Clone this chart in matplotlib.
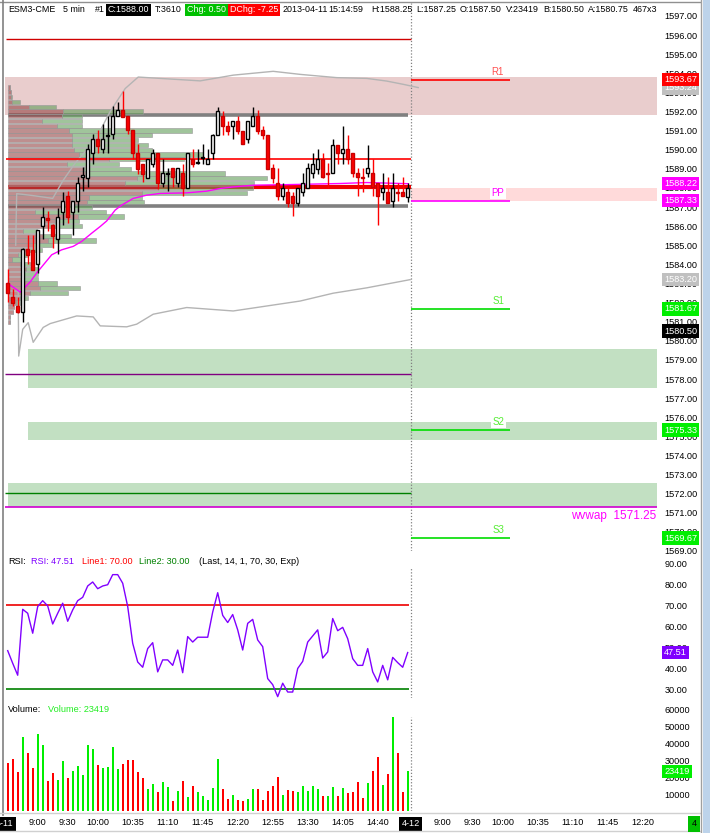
import numpy as np
import matplotlib.pyplot as plt
from matplotlib.patches import Rectangle
from matplotlib.lines import Line2D
import matplotlib.transforms as mtransforms

plt.rcParams['font.family'] = ['Liberation Sans', 'DejaVu Sans']

W, H = 710, 833
FS = 6.6

# ---- candles (5 min ESM3, 2013-04-11, bar 0 = 8:30) ----
opens = [1583.00, 1582.30, 1581.80, 1581.50, 1584.80, 1584.75, 1584.00, 1586.00, 1586.40, 1586.05,
         1585.30, 1586.75, 1587.55, 1586.75, 1587.30, 1588.55, 1588.50, 1589.80, 1590.55, 1590.05,
         1590.70, 1590.80, 1591.75, 1592.05, 1591.75, 1591.05, 1589.80, 1589.25, 1588.50, 1589.25,
         1589.80, 1588.25, 1588.75, 1589.05, 1588.25, 1588.80, 1588.00, 1589.50, 1589.30, 1589.55,
         1589.25, 1589.80, 1590.75, 1591.75, 1591.25, 1591.25, 1591.50, 1591.00, 1590.55, 1591.25,
         1591.75, 1591.05, 1590.75, 1589.05, 1588.25, 1587.55, 1587.80, 1587.55, 1587.20, 1587.80,
         1588.00, 1588.80, 1589.00, 1589.50, 1588.80, 1588.80, 1590.25, 1589.80, 1590.05, 1589.80,
         1588.80, 1588.55, 1588.80, 1588.80, 1588.25, 1587.80, 1587.80, 1587.30, 1587.80, 1587.80,
         1587.50]
highs = [1583.75, 1582.70, 1582.30, 1584.85, 1585.55, 1585.55, 1585.80, 1587.00, 1586.80, 1586.10,
         1586.95, 1587.80, 1587.85, 1587.30, 1588.55, 1589.10, 1590.30, 1590.80, 1591.05, 1591.35,
         1591.75, 1592.30, 1592.50, 1593.05, 1591.75, 1591.05, 1590.30, 1589.25, 1589.50, 1590.05,
         1589.80, 1589.50, 1589.05, 1589.05, 1589.05, 1589.25, 1589.80, 1590.05, 1590.05, 1590.30,
         1590.05, 1590.80, 1592.25, 1592.00, 1591.50, 1591.50, 1591.75, 1591.00, 1591.50, 1592.25,
         1592.05, 1591.25, 1590.75, 1589.25, 1589.05, 1588.25, 1588.00, 1587.80, 1588.00, 1588.80,
         1589.30, 1589.80, 1590.05, 1589.80, 1589.30, 1590.55, 1590.25, 1591.25, 1590.75, 1589.80,
         1589.05, 1589.05, 1590.25, 1589.50, 1588.25, 1588.80, 1588.55, 1588.80, 1588.25, 1588.55,
         1588.25]
lows = [1582.05, 1581.80, 1581.45, 1581.00, 1584.00, 1583.70, 1583.55, 1585.30, 1585.75, 1584.85,
        1584.55, 1586.05, 1586.15, 1585.55, 1586.75, 1587.85, 1588.05, 1589.25, 1589.80, 1589.80,
        1589.80, 1590.55, 1591.75, 1591.70, 1590.80, 1589.50, 1588.75, 1588.30, 1588.50, 1589.10,
        1587.95, 1588.05, 1587.85, 1588.05, 1588.05, 1587.55, 1588.00, 1589.10, 1589.25, 1589.25,
        1589.25, 1589.50, 1590.75, 1590.75, 1590.75, 1590.55, 1590.80, 1590.30, 1590.35, 1591.25,
        1590.80, 1590.55, 1589.00, 1588.25, 1587.35, 1587.35, 1587.00, 1586.55, 1587.05, 1587.55,
        1588.00, 1588.50, 1588.75, 1588.50, 1588.00, 1588.80, 1589.25, 1589.25, 1589.25, 1588.55,
        1587.55, 1587.80, 1588.55, 1587.55, 1586.05, 1587.35, 1587.20, 1587.00, 1587.30, 1587.55,
        1587.25]
closes = [1582.50, 1582.00, 1581.50, 1584.80, 1584.50, 1583.70, 1585.80, 1586.50, 1586.30, 1585.50,
          1586.50, 1587.30, 1586.50, 1587.30, 1588.25, 1588.70, 1590.05, 1590.55, 1590.20, 1590.55,
          1590.75, 1591.75, 1592.05, 1591.70, 1591.05, 1589.80, 1589.00, 1588.75, 1589.50, 1589.80,
          1588.25, 1588.80, 1588.80, 1588.55, 1589.05, 1588.00, 1589.80, 1589.25, 1589.35, 1589.60,
          1589.50, 1590.75, 1592.00, 1591.25, 1591.00, 1591.50, 1591.00, 1590.30, 1591.50, 1591.75,
          1591.00, 1590.75, 1589.00, 1588.50, 1587.55, 1588.00, 1587.20, 1587.20, 1588.00, 1588.25,
          1589.05, 1589.25, 1589.50, 1588.55, 1588.75, 1590.25, 1589.80, 1590.05, 1589.50, 1588.80,
          1588.55, 1588.50, 1589.05, 1588.05, 1587.55, 1588.00, 1587.20, 1588.00, 1587.75, 1587.55,
          1588.00]

volume = [28300, 30700, 23000, 43500, 34200, 25400, 45300, 38900, 17800, 22500,
          18400, 29500, 19500, 23600, 26600, 21300, 38900, 36500, 27100, 25400,
          26000, 37700, 24800, 27700, 30100, 30100, 23000, 19500, 13100, 16000,
          11300, 17200, 14300, 6100, 11900, 17800, 8400, 14800, 11300, 9000,
          6600, 13700, 30700, 13100, 7200, 9600, 6600, 6100, 7200, 13100,
          13100, 6600, 11900, 14800, 20100, 9600, 12500, 11900, 11300, 14800,
          11900, 14800, 13100, 9000, 9000, 14300, 9000, 13700, 10900, 11300,
          17200, 7800, 16600, 23600, 31800, 15400, 21900, 55300, 34200, 11300,
          23419]
vol_dir = "rrrgrrggrr" "ggrgggggrg" "gggrrrrrgg" "rggrgrgrgg" "gggrrgrrgg" \
          "rrrrrgrrgg" "gggrggrgrr" "rrgrrgrgrr" "g"

rsi = [48.4, 42.4, 36.7, 68.1, 66.2, 56.7, 69.4, 72.2, 69.7, 61.1,
       66.2, 71.0, 62.4, 67.8, 72.2, 73.8, 79.2, 81.1, 77.9, 79.2,
       79.8, 84.6, 84.6, 80.5, 69.4, 51.9, 43.0, 40.5, 49.4, 52.2,
       38.3, 44.0, 44.0, 41.4, 48.7, 37.9, 55.1, 52.5, 54.8, 54.8,
       54.8, 66.8, 76.0, 65.2, 61.8, 65.6, 58.3, 48.7, 61.4, 63.3,
       53.5, 50.3, 35.1, 32.2, 26.5, 32.9, 28.7, 28.7, 39.9, 43.3,
       52.5, 55.4, 58.3, 44.9, 47.8, 63.7, 57.9, 59.5, 54.1, 44.6,
       41.4, 41.4, 49.4, 38.3, 33.5, 41.4, 34.5, 45.2, 42.7, 40.5,
       47.51]

# session vwap and its bands (bar index, price)
vwap_x = [0, 2.5, 4.5, 5.8, 8.8, 10.8, 13.1, 14.8, 16.8, 18.5, 19.8, 21.5, 22.8, 25.1,
          27.8, 30.5, 35.8, 39.8, 42.5, 45.1, 49.1, 55.8, 66.5, 71.8, 80.1]
vwap_y = [1583.0, 1582.55, 1583.08, 1583.55, 1584.5, 1584.76, 1584.94, 1585.2, 1585.63,
          1585.98, 1586.27, 1586.84, 1587.1, 1587.45, 1587.62, 1587.71, 1587.74, 1587.83,
          1587.97, 1588.05, 1588.14, 1588.17, 1588.23, 1588.28, 1588.22]
upper_x = [1.6, 1.8, 5, 9, 11.1, 13.5, 17.5, 20.5, 23.5, 26.1, 38.5, 45.1, 53.1, 58.5,
           65.8, 71.8, 75.8, 79.1, 82.1]
upper_y = [1585.0, 1587.7, 1587.6, 1587.45, 1588.4, 1589.3, 1590.5, 1592.0, 1593.2, 1593.8,
           1593.6, 1593.9, 1594.1, 1593.94, 1593.77, 1593.73, 1593.59, 1593.42, 1593.25]
lower_x = [2.1, 2.2, 3.0, 4.1, 5.1, 7.1, 8.5, 13.8, 17.1, 18.5, 23.8, 25.8, 29.1, 35.8,
           45.1, 58.5, 65.1, 71.8, 80.5]
lower_y = [1582.6, 1579.2, 1580.6, 1580.95, 1579.92, 1580.70, 1580.90, 1581.30, 1581.25,
           1580.78, 1580.73, 1580.87, 1581.39, 1581.74, 1581.56, 1582.08, 1582.49, 1582.77,
           1583.2]

# volume profile (sell / buy per 0.25 level, top 1593.25 down to 1581.00)
prof_top = 1593.25
prof_sell = [2, 3, 3, 4, 21, 55, 54, 34, 49, 61, 64, 64, 64, 66, 71, 101, 59, 76, 77, 129,
             117, 150, 134, 81, 79, 55, 27, 70, 47, 40, 15, 35, 40, 25, 20, 10, 4, 12, 18, 14,
             16, 30, 32, 22, 12, 8, 6, 5, 2, 2]
prof_buy = [0, 0, 1, 8, 27, 80, 20, 40, 25, 123, 80, 66, 76, 78, 124, 75, 52, 47, 140, 130,
            129, 95, 105, 53, 57, 29, 71, 46, 24, 34, 14, 28, 48, 19, 14, 9, 8, 10, 12, 16,
            14, 19, 40, 38, 8, 4, 0, 0, 0, 0]

# levels
r1, pp, s1, s2, s3 = 1593.67, 1587.33, 1581.67, 1575.33, 1569.67
last_vwap, wvwap, bid_px = 1588.22, 1571.25, 1580.50

times_day1 = ['9:00', '9:30', '10:00', '10:35', '11:10', '11:45', '12:20', '12:55', '13:30',
              '14:05', '14:40']
times_day1_bar = [6, 12, 18, 25, 32, 39, 46, 53, 60, 67, 74]
times_day2 = ['9:00', '9:30', '10:00', '10:35', '11:10', '11:45', '12:20']
times_day2_bar = [87, 93, 99, 106, 113, 120, 127]

# ---------------------------------------------------------------
fig = plt.figure(figsize=(W / 100, H / 100), dpi=100)
fig.patch.set_facecolor('white')


def axes_px(x0, y0, x1, y1):
    return fig.add_axes([x0 / W, 1 - y1 / H, (x1 - x0) / W, (y1 - y0) / H])


def fig_line(x0, y0, x1, y1, **kw):
    fig.add_artist(Line2D([x0 / W, x1 / W], [1 - y0 / H, 1 - y1 / H],
                          transform=fig.transFigure, **kw))


def fig_text(x, y, s, **kw):
    kw.setdefault('fontsize', FS)
    kw.setdefault('va', 'center')
    fig.text(x / W, 1 - y / H, s, **kw)


XL = (-0.54, 129.86)
SPLIT = 80.66
PIV_END = 100.5

ax = axes_px(5, 3, 657, 551)
ax_rsi = axes_px(5, 553, 657, 698)
ax_vol = axes_px(5, 700, 657, 811.4)

for a, top in ((ax, 1), (ax_rsi, 0.897), (ax_vol, 0.847)):
    a.set_xlim(*XL)
    for s in a.spines.values():
        s.set_visible(False)
    a.yaxis.tick_right()
    a.tick_params(axis='y', length=0, pad=5.5, labelsize=FS)
    a.tick_params(axis='x', length=0, labelbottom=False)
    a.axvline(SPLIT, color='#808080', ls=(0, (1, 1.5)), lw=0.9, ymax=top, zorder=1)

ax.set_ylim(1569.222, 1597.675)
ax.set_yticks(np.arange(1569, 1598, 1.0))
ax.yaxis.set_major_formatter(lambda v, p: f'{v:.2f}')

# bands
ax.axhspan(1591.81, 1593.78, color='#e9cdcd', zorder=0.5, lw=0)
ax.fill_between([SPLIT, XL[1]], 1587.31, 1588.02, color='#ffdada', zorder=0.5, lw=0)
ax.fill_between([4.06, XL[1]], 1577.55, 1579.55, color='#c2e0c2', zorder=0.5, lw=0)
ax.fill_between([4.06, XL[1]], 1574.79, 1575.76, color='#c2e0c2', zorder=0.5, lw=0)
ax.fill_between([0.06, XL[1]], 1571.31, 1572.54, color='#c2e0c2', zorder=0.5, lw=0)

# horizontal lines
ax.hlines(1595.79, -0.3, SPLIT, color='#d00000', lw=1, zorder=2)
ax.hlines([1591.82, 1587.05], 0.1, 80.1, color='#808080', lw=2.6, zorder=2)
ax.hlines(1589.52, -0.3, SPLIT, color='#ff0000', lw=1.2, zorder=4)
ax.hlines(1588.05, 0.1, SPLIT, color='#ee0000', lw=3, zorder=2)
ax.hlines(1578.24, XL[0], SPLIT, color='#800080', lw=1, zorder=2)
ax.hlines(1572.01, XL[0], SPLIT, color='#008000', lw=1, zorder=2)
ax.hlines(wvwap + 0.06, XL[0], XL[1], color='#d000d0', lw=1.2, zorder=2)

# pivots
ax.hlines(r1, SPLIT, PIV_END, color='#ff0000', lw=1.2, zorder=3)
ax.hlines(pp, SPLIT, PIV_END, color='#ff00ff', lw=1.2, zorder=3)
ax.hlines([s1, s2, s3], SPLIT, PIV_END, color='#00dd00', lw=1.2, zorder=3)
ax.text(98, r1 + 0.42, 'R1', color='#ff5050', fontsize=FS + 0.4, ha='center', va='center', zorder=6)
ax.text(98, pp + 0.42, 'PP', color='#ff00ff', fontsize=FS + 0.4, ha='center', va='center', zorder=6,
        bbox=dict(boxstyle='square,pad=0.15', fc='white', ec='none'))
for lv, nm in ((s1, 'S1'), (s2, 'S2'), (s3, 'S3')):
    ax.text(98.2, lv + 0.42, nm, color='#55ee33', fontsize=FS + 0.4, ha='center', va='center',
            zorder=6, bbox=dict(boxstyle='square,pad=0.15', fc='white', ec='none'))
ax.text(XL[1] - 0.2, wvwap - 0.42, 'wvwap  1571.25', color='#ff00ff', fontsize=8.5,
        ha='right', va='center', zorder=6)

# volume profile
levels = prof_top - 0.25 * np.arange(len(prof_sell))
sell = np.array(prof_sell) * 0.2
buy = np.array(prof_buy) * 0.2
ax.barh(levels, sell, left=0.12, height=0.22, color=(0.58, 0.27, 0.27, 0.6),
        edgecolor=(0.6, 0.6, 0.6, 0.7), lw=0.6, zorder=3)
ax.barh(levels, buy, left=0.12 + sell, height=0.22, color=(0.38, 0.62, 0.35, 0.6),
        edgecolor=(0.6, 0.6, 0.6, 0.7), lw=0.6, zorder=3)

# vwap and bands
ax.plot(upper_x, upper_y, color='#b4b4b4', lw=1, zorder=3.5)
ax.plot(lower_x, lower_y, color='#b4b4b4', lw=1, zorder=3.5)
ax.plot(vwap_x, vwap_y, color='#ff00ff', lw=1, zorder=4)

# candles
for i, (o, h, l, c) in enumerate(zip(opens, highs, lows, closes)):
    up = c >= o
    ax.vlines(i, l, h, color='black' if up else '#ff0000', lw=1, zorder=5)
    ax.add_patch(Rectangle((i - 0.3, min(o, c)), 0.6, max(abs(c - o), 0.015),
                           facecolor='white' if up else '#ff0000',
                           edgecolor='black' if up else '#c80000', lw=1, zorder=6))


def price_box(a, y, s, bg, fg='white'):
    tr = mtransforms.blended_transform_factory(a.transAxes, a.transData)
    a.annotate(s, xy=(1, y), xycoords=tr, xytext=(7, 0), textcoords='offset pixels',
               ha='left', va='center', fontsize=FS, color=fg, annotation_clip=False, zorder=10,
               bbox=dict(boxstyle='square,pad=0.25', fc=bg, ec='none'))


price_box(ax, 1593.24, '1593.24', '#c0c0c0')
price_box(ax, r1, '1593.67', '#ff0000')
price_box(ax, last_vwap, '1588.22', '#ff00ff')
price_box(ax, pp, '1587.33', '#ff00ff')
price_box(ax, 1583.20, '1583.20', '#c0c0c0')
price_box(ax, s1, '1581.67', '#00ee00')
price_box(ax, bid_px, '1580.50', 'black')
price_box(ax, s2, '1575.33', '#00ee00')
price_box(ax, s3, '1569.67', '#00ee00')

# RSI panel
ax_rsi.set_ylim(25.86, 94.9)
ax_rsi.set_yticks(np.arange(30, 91, 10))
ax_rsi.yaxis.set_major_formatter(lambda v, p: f'{v:.2f}')
ax_rsi.hlines(70, -0.3, 80.3, color='#ee0000', lw=1.2)
ax_rsi.hlines(30, -0.3, 80.3, color='#008000', lw=1.2)
ax_rsi.plot(range(len(rsi)), rsi, color='#8000ff', lw=1)
price_box(ax_rsi, rsi[-1], '47.51', '#8000ff')

# volume panel
ax_vol.set_ylim(0, 65300)
ax_vol.set_yticks(np.arange(10000, 60001, 10000))
ax_vol.yaxis.set_major_formatter(lambda v, p: f'{int(v)}')
ax_vol.bar(range(len(volume)), volume, width=0.36,
           color=['#00ee00' if d == 'g' else '#ff0000' for d in vol_dir], zorder=3)
price_box(ax_vol, volume[-1], '23419', '#00ee00')

ax_vol.set_xticks(times_day1_bar + times_day2_bar)
ax_vol.set_xticklabels(times_day1 + times_day2)
ax_vol.tick_params(axis='x', labelbottom=True, labelsize=FS, pad=5)
for xb, s in ((-0.65, '4-11'), (80.56, '4-12')):
    ax_vol.annotate(s, xy=(xb, 0), xycoords=('data', 'axes fraction'), xytext=(0, -12.5),
                    textcoords='offset pixels', ha='center', va='center', fontsize=FS,
                    color='white', annotation_clip=False,
                    bbox=dict(boxstyle='square,pad=0.25', fc='black', ec='none'))

# header line
hdr = [(8, 'ESM3-CME', None, 'black'), (63, '5 min', None, 'black'), (95, '#1', None, 'black'),
       (108, 'C:1588.00', 'black', 'white'), (155, 'T:3610', None, 'black'),
       (187, 'Chg: 0.50', '#00c000', 'white'), (230, 'DChg: -7.25', '#ff0000', 'white'),
       (283, '2013-04-11', None, 'black'), (328, '15:14:59', None, 'black'),
       (371, 'H:1588.25', None, 'black'), (416, 'L:1587.25', None, 'black'),
       (460, 'O:1587.50', None, 'black'), (506, 'V:23419', None, 'black'),
       (543, 'B:1580.50', None, 'black'), (588, 'A:1580.75', None, 'black'),
       (633, '467x3', None, 'black')]
for x, s, bg, fg in hdr:
    kw = {}
    if bg:
        kw['bbox'] = dict(boxstyle='square,pad=0.2', fc=bg, ec='none')
    fig_text(x, 10, s, color=fg, fontsize=6.4, **kw)

# RSI / volume titles
fig_text(8, 562, 'RSI:')
fig_text(31, 562, 'RSI: 47.51', color='#8000ff')
fig_text(82, 562, 'Line1: 70.00', color='#ff0000')
fig_text(139, 562, 'Line2: 30.00', color='#008000')
fig_text(199, 562, '(Last, 14, 1, 70, 30, Exp)')
fig_text(8, 710, 'Volume:')
fig_text(48, 710, 'Volume: 23419', color='#22ee22')

# frame pieces
fig_line(0, 1.5, 700, 1.5, color='#909090', lw=1)
fig_line(2.5, 0, 2.5, 815, color='#808080', lw=1.2)
fig_line(0, 813, 700, 813, color='#d0d0d0', lw=1)
fig_line(0, 831, 700, 831, color='#d0d0d0', lw=1)
fig_line(701, 0, 701, 833, color='#a0a0a0', lw=1)
fig.add_artist(Rectangle((703 / W, 0), 7 / W, 1, transform=fig.transFigure,
                         fc='#bdd3ea', ec='none'))
fig_text(694, 824, '4', ha='center',
         bbox=dict(boxstyle='square,pad=0.35', fc='#00c000', ec='none'))

fig.savefig('out.png', dpi=100)
